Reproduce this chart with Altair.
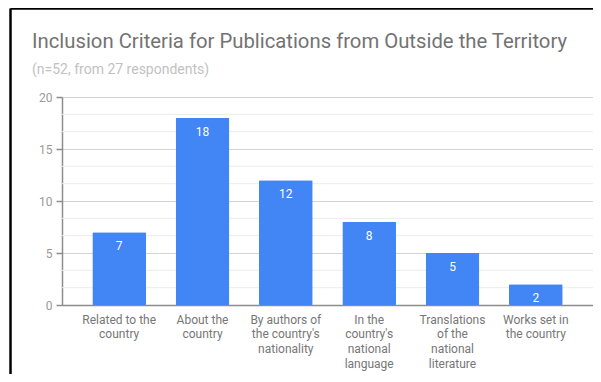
import altair as alt
import pandas as pd

categories = [
    "Related to the\ncountry",
    "About the\ncountry",
    "By authors of\nthe country's\nnationality",
    "In the\ncountry's\nnational\nlanguage",
    "Translations\nof the\nnational\nliterature",
    "Works set in\nthe country",
]
values = [7, 18, 12, 8, 5, 2]
major_ticks = [0, 5, 10, 15, 20]
minor_ticks = [5 / 3, 10 / 3, 20 / 3, 25 / 3, 35 / 3, 40 / 3, 50 / 3, 55 / 3]

df = pd.DataFrame({"category": categories, "value": values})
minor_df = pd.DataFrame({"v": minor_ticks})

FONT = "Roboto"
BLUE = "#4285F4"
AXIS_GREY = "#8c8c8c"

minor_grid = alt.Chart(minor_df).mark_rule(color="#ececec", strokeWidth=1).encode(
    y=alt.Y("v:Q", scale=alt.Scale(domain=[0, 20], nice=False))
)

base = alt.Chart(df)

bars = base.mark_bar(color=BLUE, cornerRadius=1).encode(
    x=alt.X(
        "category:N",
        sort=None,
        title=None,
        scale=alt.Scale(paddingInner=0.356, paddingOuter=0.364),
        axis=alt.Axis(
            labelAngle=0,
            labelExpr="split(datum.label, '\\n')",
            labelFont=FONT,
            labelFontSize=12,
            labelColor="#777777",
            labelLineHeight=14.7,
            labelPadding=9,
            ticks=False,
            domainColor=AXIS_GREY,
            domainWidth=1.5,
            labelBaseline="top",
        ),
    ),
    y=alt.Y(
        "value:Q",
        title=None,
        scale=alt.Scale(domain=[0, 20], nice=False),
        axis=alt.Axis(
            values=major_ticks,
            labelOverlap=False,
            labelFont=FONT,
            labelFontSize=12,
            labelColor="#999999",
            labelPadding=4,
            tickSize=6,
            tickWidth=1.5,
            tickColor=AXIS_GREY,
            domainColor=AXIS_GREY,
            domainWidth=1.5,
            grid=True,
            gridColor="#d4d4d4",
            gridWidth=1,
        ),
    ),
)

labels = base.mark_text(
    color="white", font=FONT, fontSize=12, baseline="middle", dy=14
).encode(
    x=alt.X("category:N", sort=None),
    y=alt.Y("value:Q"),
    text=alt.Text("value:Q"),
)

frame = pd.DataFrame({"k": [0]})
border_top = alt.Chart(frame).mark_rule(color="black", strokeWidth=2.5).encode(
    x=alt.value(-51.5), x2=alt.value(545), y=alt.value(-88.5)
)
border_left = alt.Chart(frame).mark_rule(color="black", strokeWidth=2.5).encode(
    x=alt.value(-51.5), y=alt.value(-88.5), y2=alt.value(295)
)

chart = (
    alt.layer(minor_grid, bars, labels, border_top, border_left)
    .properties(
        width=531,
        height=208,
        autosize=alt.AutoSizeParams(type="none"),
        padding={"left": 54, "top": 89, "right": 0, "bottom": 69},
        title=alt.TitleParams(
            text="Inclusion Criteria for Publications from Outside the Territory",
            subtitle="(n=52, from 27 respondents)",
            anchor="start",
            frame="group",
            dx=-30,
            font=FONT,
            fontSize=20.3,
            fontWeight="normal",
            color="#737373",
            subtitleFont=FONT,
            subtitleFontSize=14,
            subtitleColor="#c2c2c2",
            subtitlePadding=11,
            offset=-70,
        ),
    )
    .configure_view(stroke=None)
    .configure(background="white")
)

chart.save("out.html", embed_options={"renderer": "svg", "actions": False})
